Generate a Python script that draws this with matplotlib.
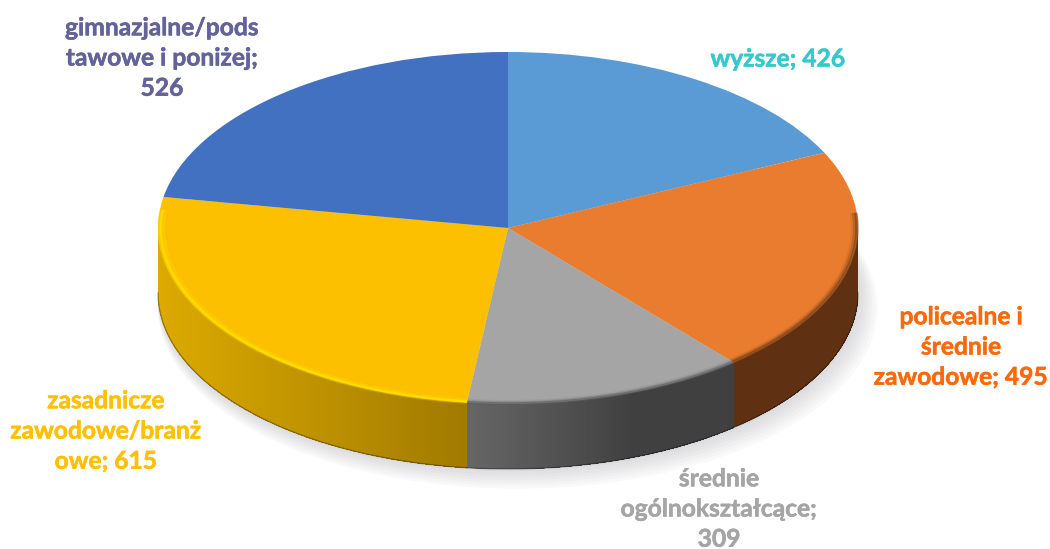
import numpy as np
from matplotlib import pyplot as plt
from matplotlib import patheffects as pe
from matplotlib.colors import to_rgb

# values from the data labels, clockwise from 12 o'clock
categories = ['wyższe; ', 'policealne i\nśrednie\nzawodowe; ', 'średnie\nogólnokształcące;\n',
              'zasadnicze\nzawodowe/branż\nowe; ', 'gimnazjalne/pods\ntawowe i poniżej;\n']
values = [426, 495, 309, 615, 526]
top_colors = ['#5b9bd5', '#ea7c30', '#a5a5a5', '#fcc000', '#4371c2']
wall_left = ['#6a3a12', '#5f3112', '#666666', '#dcaa00', '#2c4a80']
wall_right = ['#6a3a12', '#5f3112', '#404040', '#a17a00', '#2c4a80']
wall_speed = [1, 1, 1.6, 1, 1]
text_colors = ['#36c9cc', '#fb6a0a', '#a5a5a5', '#ffc000', '#63639a']

W, H = 1050, 549
CX, CY, RX, RY = 508, 228, 350, 176
DEPTH = 65 / RY

plt.rcParams['font.family'] = ['Lato', 'DejaVu Sans']
fig = plt.figure(figsize=(W / 100, H / 100), dpi=100)
ax = fig.add_axes([0, 0, 1, 1])


def px(x, y):
    return (x - CX) / RX, (CY - y) / RY


# angles of the slice borders (degrees clockwise from the top)
edges = np.concatenate([[0], np.cumsum(values)]) / np.sum(values) * 360

# soft shadow under the pie
t = np.radians(np.linspace(0, 360, 361))
for i in range(8):
    grow = 1 + i * 0.004
    ax.fill(np.sin(t) * grow + 0.004 * i, np.cos(t) * grow - DEPTH - 0.012 * i,
            color='#9a9aa0', alpha=0.05, lw=0, zorder=1)

# side wall, overlapping strips so that no seams show in the gradient
for i in range(len(values)):
    a0, a1 = max(edges[i], 90), min(edges[i + 1], 270)
    if a1 <= a0:
        continue
    left = np.array(to_rgb(wall_left[i]))
    right = np.array(to_rgb(wall_right[i]))
    angs = np.linspace(a0, a1, int((a1 - a0) * 2) + 2)
    if np.sin(np.radians(angs[0])) < np.sin(np.radians(angs[-1])):
        angs = angs[::-1]
    xs_all = np.sin(np.radians(angs))
    for j in range(len(angs) - 1):
        # draw from the right to the left, each strip reaches under the last one
        th1 = np.radians(angs[j + 1])
        th = np.radians(np.linspace(angs[0], angs[j + 1], j + 2))
        x = np.sin(th)
        y = np.cos(th)
        f = (np.sin(th1) - xs_all.min()) / (xs_all.max() - xs_all.min())
        f = min(f * wall_speed[i], 1)
        c = left + (right - left) * f
        ax.fill(np.r_[x, x[::-1]], np.r_[y, y[::-1] - DEPTH], color=c, lw=0, zorder=2 + 0.001 * (len(angs) - j))
    th = np.radians(np.linspace(a0, a1, 100))
    ax.plot(np.sin(th), np.cos(th) - DEPTH, color='#000000', alpha=0.3, lw=1, zorder=3)

# top face
ax.pie(values, colors=top_colors, startangle=90, counterclock=False, radius=1,
       wedgeprops={'linewidth': 0, 'zorder': 4})

# bevel along the rim: dark blur on orange and grey, bright line on yellow
for i, (c, start, radii) in {
    1: ('#6b3a14', 85, [(0.997, 2.5, 0.55), (0.991, 2.5, 0.3), (0.985, 2.5, 0.12)]),
    2: ('#5a5a5a', edges[2], [(0.998, 2, 0.6), (0.992, 2, 0.25), (0.985, 2, 0.1)]),
    3: ('#ffe000', edges[3], [(0.992, 1.5, 0.85), (0.985, 2.5, 0.3), (0.998, 2, 0.3)]),
}.items():
    th = np.radians(np.linspace(max(edges[i], start), min(edges[i + 1], 276), 150))
    for r, lw, alpha in radii:
        ax.plot(r * np.sin(th), r * np.cos(th), color=c, alpha=alpha, lw=lw,
                solid_capstyle='butt', zorder=5)

ax.set_aspect('auto')
ax.set_xlim(-CX / RX, (W - CX) / RX)
ax.set_ylim((CY - H) / RY, CY / RY)
ax.axis('off')

# data labels, centre of the text block in reference pixels
label_pos = [(778, 59), (961, 347), (719, 509), (106, 431), (162, 58)]
for i in range(len(values)):
    x, y = px(*label_pos[i])
    txt = ax.text(x, y, f'{categories[i]}{values[i]}', color=text_colors[i], fontsize=17.7,
                  fontweight='bold', ha='center', va='center', linespacing=1.38, zorder=6)
    txt.set_path_effects([pe.withStroke(linewidth=0.4, foreground=text_colors[i])])

fig.savefig('out.png', dpi=100)
